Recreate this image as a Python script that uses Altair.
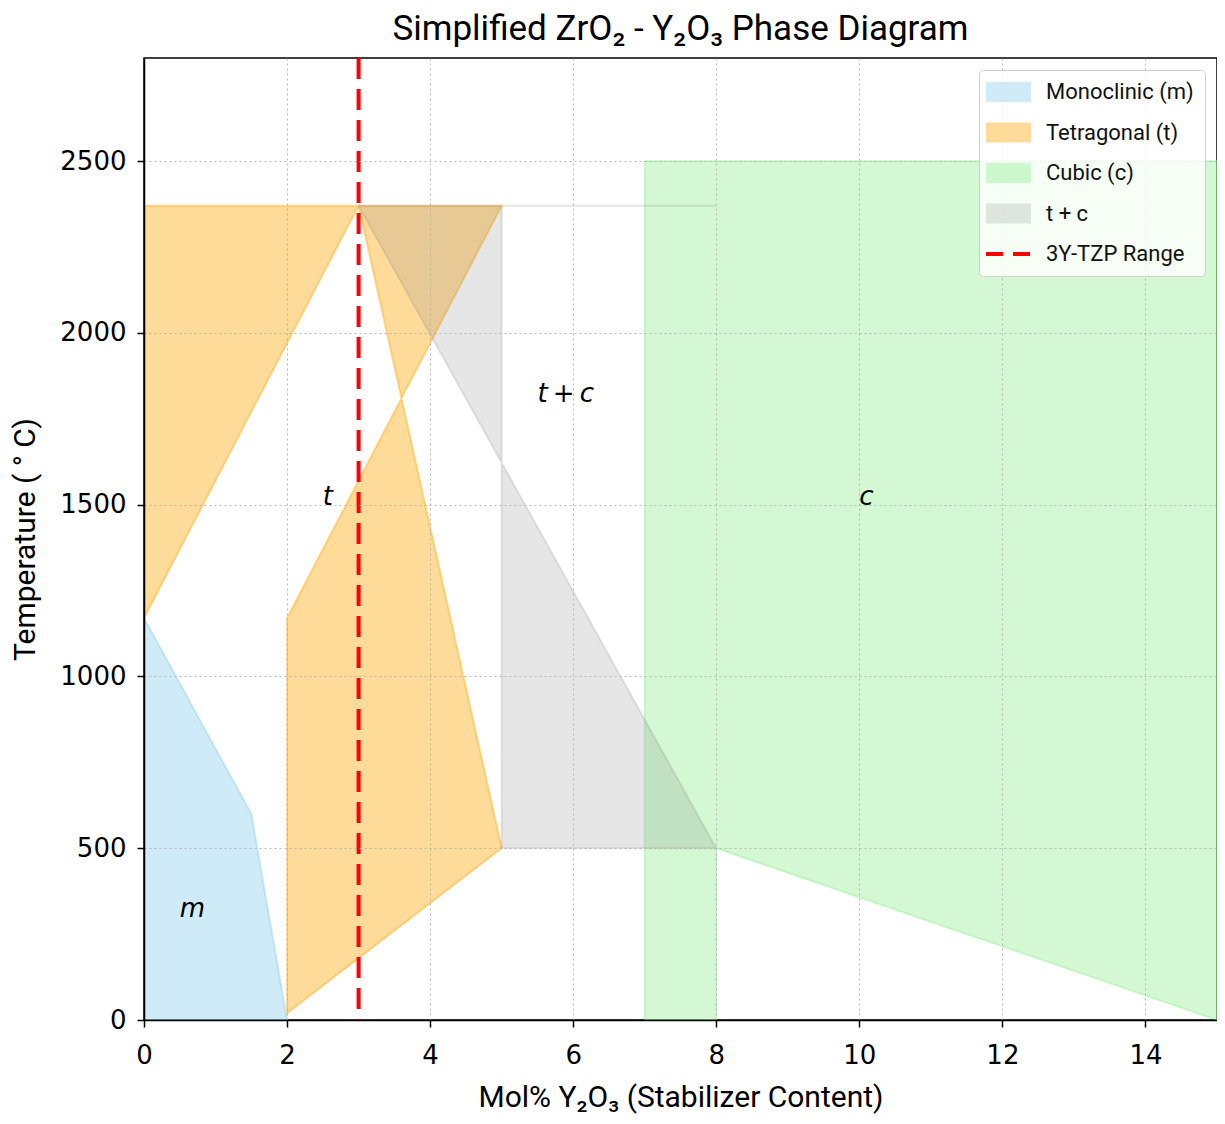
import altair as alt
import pandas as pd

# ---- data ----
phases = ["Monoclinic (m)", "Tetragonal (t)", "Cubic (c)", "t + c", "3Y-TZP Range"]
phase_colors = ["rgba(135,206,235,0.4)", "rgba(255,165,0,0.4)",
                "rgba(144,238,144,0.4)", "rgba(128,128,128,0.2)", "red"]

mono_x = [0, 0, 1.5, 2]
mono_y = [0, 1170, 600, 0]

tet1_x = [0, 0, 3]
tet1_y = [1170, 2370, 2370]

tet2_x = [3, 5, 2, 2, 5]
tet2_y = [2370, 2370, 1170, 20, 500]

cubic_x = [7, 7, 15, 15, 8, 8]
cubic_y = [0, 2500, 2500, 0, 500, 0]

tc_x = [3, 8, 5, 5, 8]
tc_y = [2370, 2370, 2370, 500, 500]

tzp_x = [3]

label_text = ["m", "t", "t\u2009+\u2009c", "c"]
label_x = [0.5, 2.5, 5.5, 10]
label_y = [300, 1500, 1800, 1500]

x_ticks = [0, 2, 4, 6, 8, 10, 12, 14]
y_ticks = [0, 500, 1000, 1500, 2000, 2500]

polygons = [
    ("mono", "Monoclinic (m)", mono_x, mono_y),
    ("tet1", "Tetragonal (t)", tet1_x, tet1_y),
    ("tet2", "Tetragonal (t)", tet2_x, tet2_y),
    ("cubic", "Cubic (c)", cubic_x, cubic_y),
    ("tc", "t + c", tc_x, tc_y),
]
rows = []
for pid, phase, xs, ys in polygons:
    xs2 = list(xs) + [xs[0]]
    ys2 = list(ys) + [ys[0]]
    for i, (xv, yv) in enumerate(zip(xs2, ys2)):
        rows.append({"poly": pid, "phase": phase, "order": i, "x": xv, "y": yv})
poly_df = pd.DataFrame(rows)
label_df = pd.DataFrame({"label": label_text, "x": label_x, "y": label_y})
tzp_df = pd.DataFrame({"x": tzp_x})

# ---- chart ----
x_scale = alt.Scale(domain=[0, 15], nice=False, zero=False)
y_scale = alt.Scale(domain=[0, 2800], nice=False, zero=False)

grid_common = dict(grid=True, gridColor="#b0b0b0", gridDash=[2, 3], gridWidth=1,
                   gridOpacity=0.9, tickColor="black", tickSize=7, tickWidth=1.5,
                   domainColor="black", domainWidth=1.5, labelFont="DejaVu Sans",
                   labelFontSize=26, labelColor="black", titleFont="Roboto",
                   titleFontWeight="normal", titleColor="black", labelFlush=False,
                   format="d", zindex=1)

x_axis = alt.Axis(values=x_ticks, title="Mol% Y\u2082O\u2083 (Stabilizer Content)",
                  titlePadding=14, titleFontSize=30, labelPadding=15, **grid_common)
y_axis = alt.Axis(values=y_ticks, title="Temperature ( \u00b0 C)", titlePadding=19,
                  titleFontSize=30, labelPadding=11, **grid_common)

is_line = "datum.label == '3Y-TZP Range'"
legend = alt.Legend(
    title=None, orient="top-right", offset=12, zindex=2,
    fillColor="rgba(255,255,255,0.8)", strokeColor="#d0d0d0", cornerRadius=4,
    padding=11, rowPadding=18.5, labelFont="Roboto", labelFontSize=22,
    labelColor="#111111", labelOffset=34, symbolSize=900, symbolOpacity=1,
    symbolType=alt.ExprRef(f"{is_line} ? 'M-1,0H2' : 'M-1,-0.66H2V0.66H-1Z'"),
    symbolStrokeColor=alt.ExprRef(f"{is_line} ? 'red' : 'transparent'"),
    symbolStrokeWidth=alt.ExprRef(f"{is_line} ? 4 : 0"),
    symbolDash=alt.ExprRef(f"{is_line} ? [17, 10] : [1, 0]"),
)

polys = alt.Chart(poly_df).mark_line(strokeWidth=2, clip=True).encode(
    x=alt.X("x:Q", scale=x_scale, axis=x_axis),
    y=alt.Y("y:Q", scale=y_scale, axis=y_axis),
    order="order:Q",
    detail="poly:N",
    fill=alt.Fill("phase:N", scale=alt.Scale(domain=phases, range=phase_colors),
                  legend=legend),
    stroke=alt.Stroke("phase:N", scale=alt.Scale(domain=phases, range=phase_colors),
                      legend=None),
)

tzp = alt.Chart(tzp_df).mark_rule(color="red", strokeWidth=4, strokeDash=[21, 10]).encode(
    x=alt.X("x:Q", scale=x_scale)
)

labels = alt.Chart(label_df).mark_text(
    align="left", baseline="alphabetic", font="DejaVu Sans", fontStyle="italic",
    fontSize=26, color="black"
).encode(
    x=alt.X("x:Q", scale=x_scale),
    y=alt.Y("y:Q", scale=y_scale),
    text="label:N",
)

chart = alt.layer(polys, tzp, labels).properties(
    width=1073, height=962,
    title=alt.TitleParams("Simplified ZrO\u2082 - Y\u2082O\u2083 Phase Diagram",
                          font="Roboto", fontSize=35, fontWeight="normal",
                          color="black", offset=9, anchor="middle"),
    autosize=alt.AutoSizeParams(type="none"),
    padding={"left": 136, "top": 50, "right": 0, "bottom": 96},
    background="white",
).configure_view(stroke="black", strokeWidth=1.5)

chart.save("out.html", embed_options={"renderer": "svg", "actions": False})
